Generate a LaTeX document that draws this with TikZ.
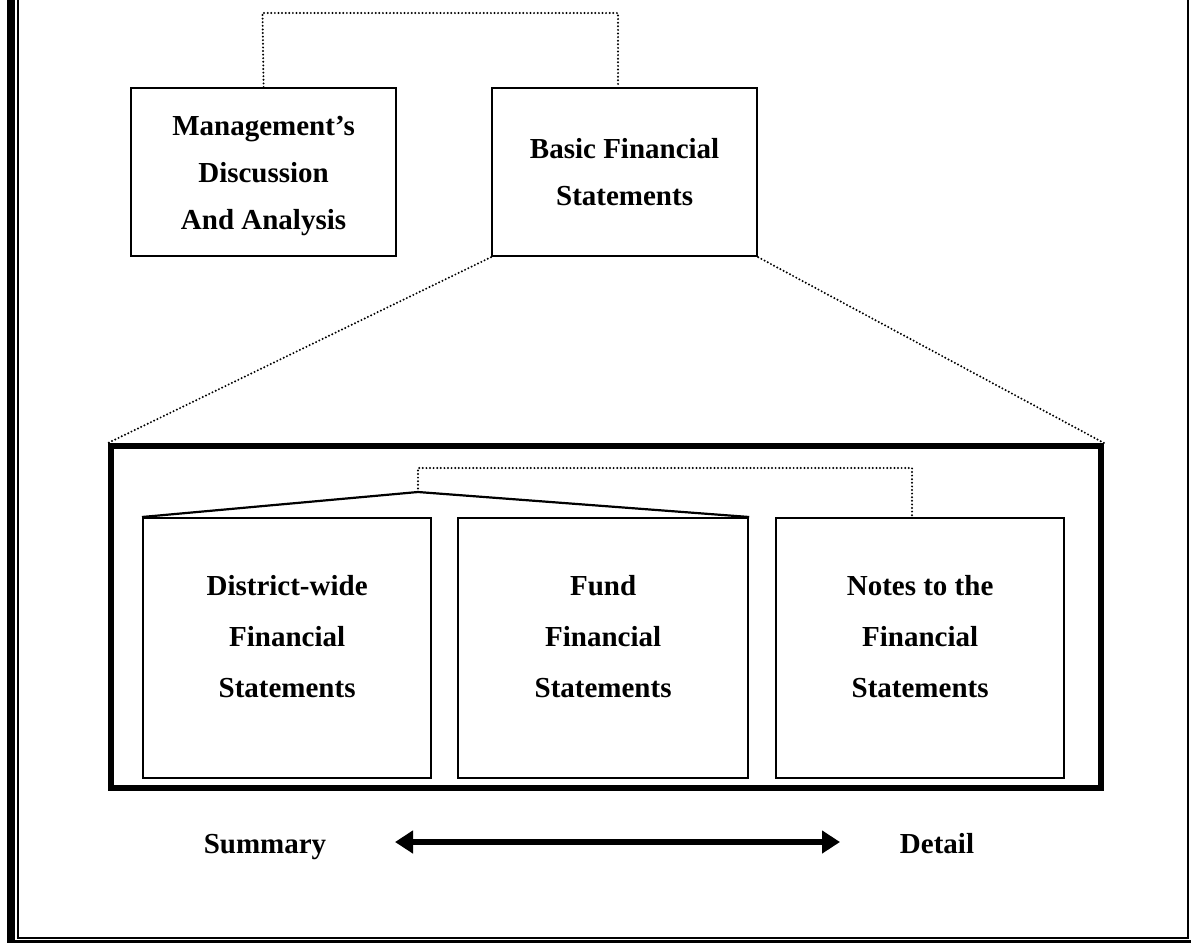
\documentclass[tikz,border=0pt]{standalone}
\usepackage{fontspec}
\setmainfont{Liberation Serif}
\usetikzlibrary{arrows.meta}
\begin{document}
\begin{tikzpicture}[x=1pt,y=-1pt,
  topbox/.style={draw, line width=2.2pt, minimum width=265pt, minimum height=168pt,
    anchor=north west, inner sep=0pt},
  innerbox/.style={draw, line width=2.2pt, minimum width=288pt, minimum height=260pt,
    anchor=north west, inner sep=0pt},
  toptext/.style={align=center, inner sep=0pt, font=\bfseries\fontsize{29}{47}\selectfont},
  innertext/.style={align=center, inner sep=0pt, font=\bfseries\fontsize{29}{51}\selectfont},
  bigbox/.style={draw, line width=6pt, minimum width=990pt, minimum height=342pt,
    anchor=north west, inner sep=0pt},
  dotline/.style={line width=2.2pt, line cap=round, dash pattern=on 0pt off 3.6pt},
  solidline/.style={line width=2.2pt},
  label/.style={font=\bfseries\fontsize{29}{35}\selectfont, inner sep=0pt, anchor=base},
  frame/.style={line width=2pt}
]
\useasboundingbox (0,0) rectangle (1191,943);
% page frame
\draw[line width=8pt] (11,0) -- (11,943);
\draw[frame] (18,0) -- (18,938) -- (1188,938) -- (1188,0);
\draw[line width=3pt] (15,941) -- (1191,941);

% top boxes
\node[topbox] (mda) at (130,87) {};
\node[toptext] (mdat) at ([yshift=-4pt]mda.center) {Management's\\Discussion\\And Analysis};
\node[topbox] (bfs) at (491,87) {};
\node[toptext] (bfst) at (bfs.center) {Basic Financial\\Statements};
\coordinate (bfstop) at (618,87);
\coordinate (topl) at (262.5,13);
\coordinate (topr) at (618,13);
\draw[dotline] (mda.north) -- (topl) -- (topr) -- (bfstop);

% big box
\node[bigbox] (big) at (108,443) {};
\draw[dotline] (bfs.south west) -- (big.north west);
\draw[dotline] (bfs.south east) -- (big.north east);

% inner boxes
\node[innerbox, minimum width=288pt] (dw) at (142,517) {};
\node[innerbox, minimum width=290pt] (fund) at (457,517) {};
\node[innerbox, minimum width=288pt] (notes) at (775,517) {};
\node[innertext] (dwt) at ([yshift=12pt]dw.center) {District-wide\\Financial\\Statements};
\node[innertext] (fundt) at ([yshift=12pt]fund.center) {Fund\\Financial\\Statements};
\node[innertext] (notest) at ([yshift=12pt]notes.center) {Notes to the\\Financial\\Statements};

% bracket
\coordinate (apex) at (418,492);
\coordinate (apexup) at (418,468);
\coordinate (notesup) at (912,468);
\coordinate (notestop) at (912,517);
\draw[solidline] (dw.north west) -- (apex) -- (fund.north east);
\draw[dotline] (apex) -- (apexup) -- (notesup) -- (notestop);

% summary / detail
\node[label] (sum) at (265,853) {Summary};
\node[label] (det) at (937,853) {Detail};
\coordinate (al) at (395,842);
\coordinate (ar) at (840,842);
\draw[line width=6pt, {Triangle[length=18pt,width=22pt]}-{Triangle[length=18pt,width=22pt]}] (al) -- (ar);
\end{tikzpicture}
\end{document}
